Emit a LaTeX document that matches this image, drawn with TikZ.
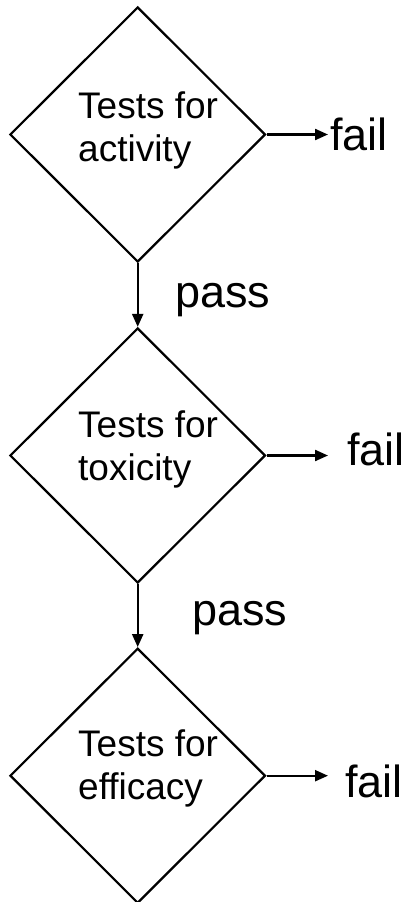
\documentclass[tikz,border=0pt]{standalone}
\usepackage{fontspec}
\setmainfont{Liberation Sans}
\usetikzlibrary{shapes.geometric,arrows.meta}
\begin{document}
\begin{tikzpicture}[x=1pt,y=-1pt,
  test/.style={diamond,draw,line width=2.2pt,inner sep=0pt,minimum width=255.5pt,minimum height=255pt},
  inner/.style={anchor=base west,inner sep=0pt,align=left,font=\fontsize{37}{43}\selectfont},
  lab/.style={anchor=base west,inner sep=0pt,font=\fontsize{45}{54}\selectfont},
  conn/.style={line width=2.2pt,-{Triangle[length=13pt,width=11pt]}}]
\useasboundingbox (0,0) rectangle (409,902);
% diamonds
\node[test] (d1) at (137.7,134.5) {};
\node[test] (d2) at (137.7,455.5) {};
\node[test] (d3) at (137.7,775.7) {};
% texts (base anchor = last line)
\node[inner] (t1) at (78,161) {Tests for\\activity};
\node[inner] (t2) at (78,480) {Tests for\\toxicity};
\node[inner] (t3) at (78,799) {Tests for\\efficacy};
% labels
\node[lab] (f1) at (330,150) {fail};
\node[lab] (f2) at (347,465) {fail};
\node[lab] (f3) at (345,797) {fail};
\node[lab] (p1) at (175,307) {pass};
\node[lab] (p2) at (192,625) {pass};
% arrow ends
\coordinate (e1) at (328,134.5);
\coordinate (e2) at (328,455.5);
\coordinate (e3) at (328,775.7);
% connectors
\draw[conn] (d1.south) -- (d2.north);
\draw[conn] (d2.south) -- (d3.north);
\draw[conn] (d1.east) -- (e1);
\draw[conn] (d2.east) -- (e2);
\draw[conn] (d3.east) -- (e3);
\end{tikzpicture}
\end{document}
